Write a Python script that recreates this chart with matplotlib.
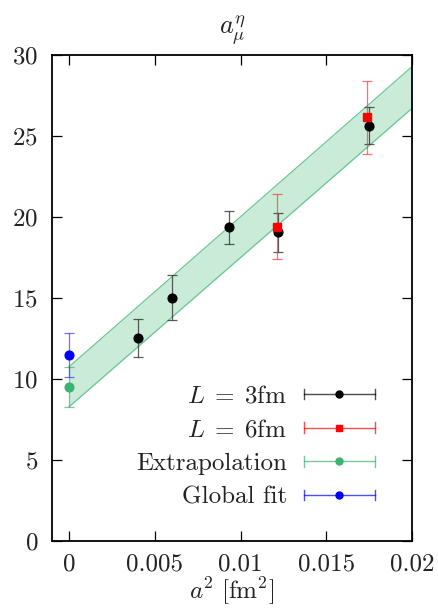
import matplotlib
matplotlib.use("Agg")
import matplotlib.pyplot as plt
from matplotlib.lines import Line2D
from matplotlib.legend_handler import HandlerBase
from matplotlib.ticker import FuncFormatter

plt.rcParams['font.family'] = 'serif'
plt.rcParams['font.serif'] = ['cmr10']
plt.rcParams['mathtext.fontset'] = 'cm'
plt.rcParams['axes.formatter.use_mathtext'] = True

# L = 3fm
x3 = [0.0040, 0.0060, 0.0093, 0.0122, 0.0175]
y3 = [12.53, 15.02, 19.36, 19.05, 25.64]
e3 = [1.17, 1.40, 1.00, 1.22, 1.16]

# L = 6fm
x6 = [0.0121, 0.0174]
y6 = [19.40, 26.15]
e6 = [2.00, 2.25]

# extrapolation and global fit at a^2 = 0
x_ex, y_ex, e_ex = [0.0], [9.49], [1.24]
x_gf, y_gf, e_gf = [0.0], [11.48], [1.34]

# fit band
band_x = [0.0, 0.02]
band_lo = [8.29, 26.71]
band_hi = [10.76, 29.28]

green = '#3cb371'


class HErrHandler(HandlerBase):
    # horizontal errorbar legend sample, gnuplot style
    def create_artists(self, legend, orig_handle, xdescent, ydescent,
                       width, height, fontsize, trans):
        c = orig_handle.get_color()
        y = height / 2 - ydescent
        x0, x1 = -xdescent, width - xdescent
        cap = 0.3 * height
        arts = [Line2D([x0, x1], [y, y], color=c, lw=1, alpha=0.7),
                Line2D([x0, x0], [y - cap, y + cap], color=c, lw=1, alpha=0.7),
                Line2D([x1, x1], [y - cap, y + cap], color=c, lw=1, alpha=0.7),
                Line2D([(x0 + x1) / 2], [y], color=c, ls='none',
                       marker=orig_handle.get_marker(),
                       markersize=orig_handle.get_markersize())]
        for a in arts:
            a.set_transform(trans)
        return arts


fig = plt.figure(figsize=(4.38, 6.10), dpi=100)
ax = fig.add_axes([0.1187, 0.1131, 0.8219, 0.7967])

ax.fill_between(band_x, band_lo, band_hi, color='#c9ebd8', lw=0)
ax.plot(band_x, band_lo, color='#6cc597', lw=0.9)
ax.plot(band_x, band_hi, color='#6cc597', lw=0.9)

kw = dict(ls='none', capsize=3.5, elinewidth=0.9, capthick=0.9)
ax.errorbar(x3, y3, yerr=e3, marker='o', ms=6.3, color='black', ecolor=(0.2, 0.2, 0.2, 0.8), **kw)
ax.errorbar(x6, y6, yerr=e6, marker='s', ms=6, color='red', ecolor=(1, 0.2, 0.2, 0.7), **kw)
ax.errorbar(x_ex, y_ex, yerr=e_ex, marker='o', ms=6.3, color=green, ecolor=(0.24, 0.7, 0.44, 0.7), **kw)
ax.errorbar(x_gf, y_gf, yerr=e_gf, marker='o', ms=6.3, color='blue', ecolor=(0.2, 0.2, 1, 0.7), **kw)

ax.set_xlim(-0.001, 0.02)
ax.set_ylim(0, 30)
ax.set_xticks([0, 0.005, 0.01, 0.015, 0.02])
ax.set_yticks(range(0, 31, 5))
ax.xaxis.set_major_formatter(FuncFormatter(lambda v, p: '%g' % v))
ax.tick_params(direction='in', length=7, width=0.9, top=True, right=True,
               labelsize=18, colors='black', labelcolor='#222222')
ax.tick_params(axis='y', pad=10)
ax.tick_params(axis='x', pad=9)
for s in ax.spines.values():
    s.set_linewidth(1.3)

ax.set_xlabel(r'$a^2\ [\mathrm{fm}^2]$', fontsize=18, color='#222222', labelpad=0)
ax.set_title(r'$a_\mu^\eta$', fontsize=19, color='#222222', pad=15)

handles = [Line2D([], [], color='black', marker='o', markersize=5),
           Line2D([], [], color='red', marker='s', markersize=5),
           Line2D([], [], color=green, marker='o', markersize=5),
           Line2D([], [], color='blue', marker='o', markersize=5)]
labels = [r'$L\;=\;3\mathrm{fm}$', r'$L\;=\;6\mathrm{fm}$', 'Extrapolation', 'Global fit']
hm = {h: HErrHandler() for h in handles}
leg = ax.legend(handles, labels, handler_map=hm, loc='lower right',
                bbox_to_anchor=(0.897, 0.066), frameon=False, markerfirst=False,
                fontsize=18, handlelength=2.85, handletextpad=0.65,
                labelspacing=0.45, borderpad=0, borderaxespad=0)
for t in leg.get_texts():
    t.set_color('#222222')

fig.savefig('out.png', dpi=100)
